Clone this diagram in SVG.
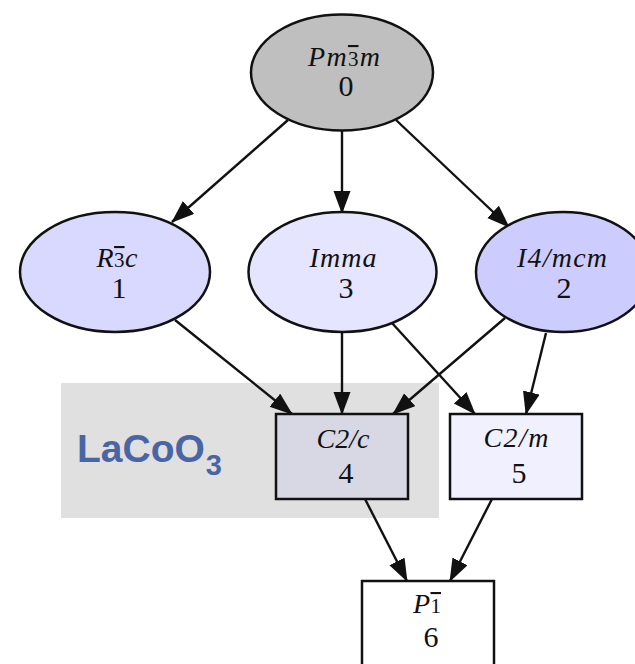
<svg xmlns="http://www.w3.org/2000/svg" width="635" height="664" viewBox="0 0 635 664">
  <style>
    .node ellipse, .node rect { stroke: #111; stroke-width: 2.5; }
    .sg { font-family: "Liberation Serif", "Times New Roman", serif; font-style: italic; font-size: 28px; fill: #111; text-anchor: middle; }
    .bar { text-decoration: overline; font-style: normal; font-size: 21px; }
    .num { font-family: "Liberation Serif", "Times New Roman", serif; font-size: 30px; fill: #111; text-anchor: middle; }
    .edge { stroke: #111; stroke-width: 2.4; fill: none; marker-end: url(#arrow); }
    .title { font-family: "Liberation Sans", Arial, sans-serif; font-weight: bold; fill: #4a65a4; }
  </style>
  <defs>
    <marker id="arrow" markerUnits="userSpaceOnUse" markerWidth="24" markerHeight="18" refX="22" refY="8.5" orient="auto">
      <path d="M0,0 L23,8.5 L0,17 z" fill="#111"/>
    </marker>
  </defs>
  <rect width="635" height="664" fill="#ffffff"/>

  <!-- material cluster backdrop -->
  <g id="cluster">
    <rect x="61" y="383" width="378" height="135" fill="#e0e0e0"/>
    <text class="title" x="77" y="462" font-size="39">LaCoO<tspan font-size="29" dy="13" dx="1">3</tspan></text>
  </g>

  <!-- connectors -->
  <g id="edges">
    <line class="edge" x1="288" y1="120" x2="172" y2="222"/>
    <line class="edge" x1="342" y1="131" x2="342" y2="213"/>
    <line class="edge" x1="396" y1="120" x2="509" y2="227"/>
    <line class="edge" x1="175" y1="320" x2="292" y2="414"/>
    <line class="edge" x1="342" y1="333" x2="342" y2="414"/>
    <line class="edge" x1="505" y1="318" x2="393" y2="414"/>
    <line class="edge" x1="392" y1="323" x2="475" y2="414"/>
    <line class="edge" x1="546" y1="333" x2="526" y2="414"/>
    <line class="edge" x1="365" y1="499" x2="407" y2="581"/>
    <line class="edge" x1="492" y1="499" x2="450" y2="581"/>
  </g>

  <!-- nodes -->
  <g id="node0" class="node">
    <ellipse cx="342" cy="72.5" rx="91" ry="58" fill="#bfbfbf"/>
    <text class="sg" x="344" y="66" textLength="72" lengthAdjust="spacing">Pm<tspan class="bar">3</tspan>m</text>
    <text class="num" x="346" y="96">0</text>
  </g>
  <g id="node1" class="node">
    <ellipse cx="115" cy="272" rx="95" ry="60" fill="#d9d9ff"/>
    <text class="sg" x="117" y="267" textLength="41" lengthAdjust="spacing">R<tspan class="bar">3</tspan>c</text>
    <text class="num" x="119" y="298">1</text>
  </g>
  <g id="node3" class="node">
    <ellipse cx="342.5" cy="272" rx="94" ry="60" fill="#e5e5ff"/>
    <text class="sg" x="343" y="267" textLength="67" lengthAdjust="spacing">Imma</text>
    <text class="num" x="346" y="298">3</text>
  </g>
  <g id="node2" class="node">
    <ellipse cx="563" cy="272" rx="87" ry="60" fill="#ccccff"/>
    <text class="sg" x="562" y="267" textLength="90" lengthAdjust="spacing">I4/mcm</text>
    <text class="num" x="564" y="298">2</text>
  </g>
  <g id="node4" class="node">
    <rect x="276" y="414" width="132" height="85" fill="#d8d8e4"/>
    <text class="sg" x="343" y="448" textLength="53" lengthAdjust="spacing">C2/c</text>
    <text class="num" x="346" y="483">4</text>
  </g>
  <g id="node5" class="node">
    <rect x="450" y="414" width="132" height="85" fill="#f0f0ff"/>
    <text class="sg" x="516" y="447" textLength="65" lengthAdjust="spacing">C2/m</text>
    <text class="num" x="519" y="483">5</text>
  </g>
  <g id="node6" class="node">
    <rect x="362" y="581" width="132" height="95" fill="#ffffff"/>
    <text class="sg" x="427" y="613" textLength="28" lengthAdjust="spacing">P<tspan class="bar">1</tspan></text>
    <text class="num" x="431" y="647">6</text>
  </g>
</svg>
